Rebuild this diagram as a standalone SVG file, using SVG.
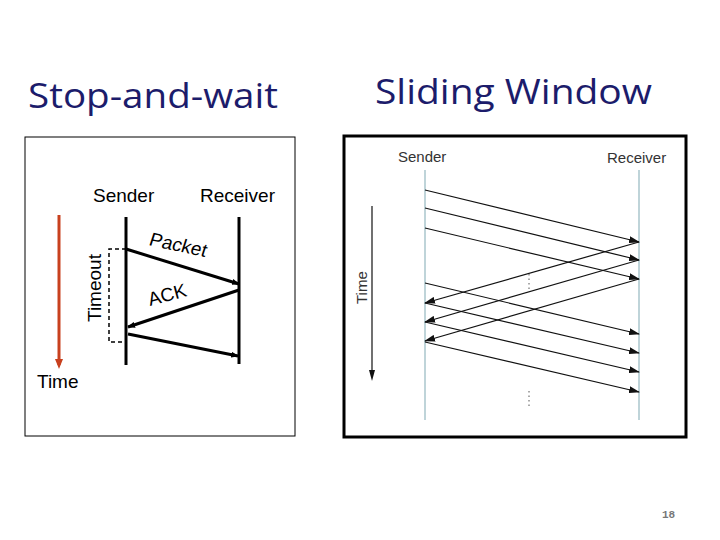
<svg xmlns="http://www.w3.org/2000/svg" width="720" height="540" viewBox="0 0 720 540">
<defs>
<marker id="ah" markerWidth="8" markerHeight="6" refX="7" refY="3" orient="auto" markerUnits="userSpaceOnUse"><path d="M0,0 L8,3 L0,6 z" fill="#000"/></marker>
<marker id="ah2" markerWidth="11" markerHeight="7" refX="10" refY="3.5" orient="auto" markerUnits="userSpaceOnUse"><path d="M0,0 L11,3.5 L0,7 z" fill="#111"/></marker>
<style>
.title{font-family:"Open Sans","Noto Sans",sans-serif;font-size:35px;fill:#1c1c6b}
.lbl{font-family:"Liberation Sans",Arial,sans-serif;font-size:19px;fill:#000}
.lbl2{font-family:"Liberation Sans",Arial,sans-serif;font-size:15px;fill:#333}
.life{stroke:#000;stroke-width:3}
.msg{stroke:#000;stroke-width:3;fill:none;marker-end:url(#ah)}
.life2{stroke:#aac6cc;stroke-width:1.5}
.msg2{stroke:#111;stroke-width:1.2;fill:none;marker-end:url(#ah2)}
</style>
</defs>
<rect width="720" height="540" fill="#fff"/>
<text class="title" x="28" y="108" textLength="250" lengthAdjust="spacingAndGlyphs">Stop-and-wait</text>
<text class="title" x="375" y="104" textLength="277" lengthAdjust="spacingAndGlyphs">Sliding Window</text>

<g id="stop-and-wait">
<rect x="25" y="137" width="270" height="299" fill="#fff" stroke="#000" stroke-width="1"/>
<g id="sw-sender"><text class="lbl" x="93" y="202">Sender</text><line class="life" x1="126" y1="217" x2="126" y2="365"/></g>
<g id="sw-receiver"><text class="lbl" x="200" y="202">Receiver</text><line class="life" x1="239" y1="217" x2="239" y2="364"/></g>
<g id="sw-time"><line x1="59" y1="215" x2="59" y2="365" stroke="#c8401e" stroke-width="3"/><path d="M55,359 L59,369 L63,359 z" fill="#c8401e"/><text class="lbl" x="37" y="388">Time</text></g>
<g id="sw-timeout"><path d="M126,249 H109 V342 H126" fill="none" stroke="#000" stroke-width="1.5" stroke-dasharray="4,3"/><text class="lbl" transform="translate(101,322) rotate(-90)">Timeout</text></g>
<g id="sw-connectors">
<line class="msg" x1="126" y1="249" x2="239" y2="284"/>
<line class="msg" x1="239" y1="290" x2="128" y2="327"/>
<line class="msg" x1="128" y1="334" x2="238" y2="356"/>
<text class="lbl" transform="translate(148,245) rotate(12) skewX(-6)">Packet</text>
<text class="lbl" transform="translate(150,306) rotate(-15)">ACK</text>
</g>
</g>

<g id="sliding-window">
<rect x="344" y="136" width="342" height="301" fill="#fff" stroke="#000" stroke-width="3"/>
<g id="sl-sender"><text class="lbl2" x="398" y="162">Sender</text><line class="life2" x1="425" y1="170" x2="425" y2="420"/></g>
<g id="sl-receiver"><text class="lbl2" x="607" y="163">Receiver</text><line class="life2" x1="639" y1="170" x2="639" y2="420"/></g>
<g id="sl-time"><line x1="372" y1="206" x2="372" y2="372" stroke="#111" stroke-width="1.2"/><path d="M369,370 L372,381 L375,370 z" fill="#111"/><text class="lbl2" transform="translate(367,304) rotate(-90)">Time</text></g>
<g id="sl-connectors">
<line class="msg2" x1="425" y1="190" x2="639" y2="242"/>
<line class="msg2" x1="425" y1="208" x2="639" y2="260"/>
<line class="msg2" x1="425" y1="228" x2="639" y2="279"/>
<line class="msg2" x1="639" y1="242" x2="425" y2="303"/>
<line class="msg2" x1="639" y1="260" x2="425" y2="322"/>
<line class="msg2" x1="639" y1="279" x2="425" y2="341"/>
<line class="msg2" x1="425" y1="283" x2="639" y2="334"/>
<line class="msg2" x1="425" y1="303" x2="639" y2="353"/>
<line class="msg2" x1="425" y1="322" x2="639" y2="372"/>
<line class="msg2" x1="425" y1="342" x2="639" y2="392"/>
<line x1="529" y1="274" x2="529" y2="289" stroke="#555" stroke-width="1" stroke-dasharray="1.5,3"/>
<line x1="529" y1="391" x2="529" y2="406" stroke="#555" stroke-width="1" stroke-dasharray="1.5,3"/>
</g>
</g>
<text x="662" y="518" font-family="Liberation Mono,monospace" font-size="11" font-weight="bold" fill="#777">18</text>
</svg>
